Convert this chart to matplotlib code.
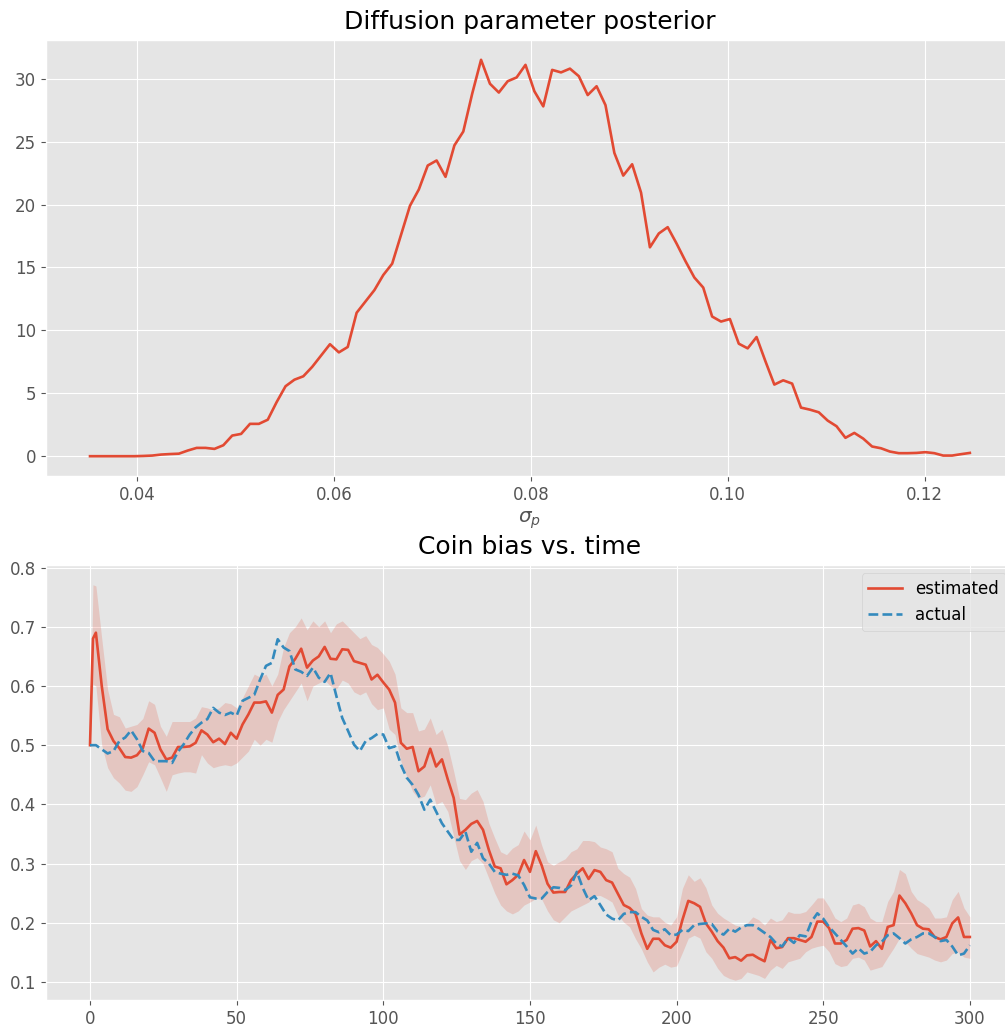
import numpy as np
import matplotlib
matplotlib.use("Agg")
import matplotlib.pyplot as plt

plt.style.use("ggplot")
plt.rcParams["font.size"] = 12

# Posterior over the diffusion parameter (100 grid points)
sigma_grid = np.linspace(0.0352, 0.1246, 100)
posterior = [
    0.0, 0.0, 0.0, 0.0, 0.0, 0.0, 0.02, 0.05, 0.13, 0.17,
    0.20, 0.45, 0.66, 0.66, 0.58, 0.87, 1.64, 1.77, 2.57, 2.57,
    2.90, 4.30, 5.56, 6.08, 6.35, 7.10, 8.00, 8.90, 8.25, 8.68,
    11.4, 12.3, 13.2, 14.4, 15.3, 17.6, 19.9, 21.2, 23.1, 23.5,
    22.2, 24.7, 25.8, 28.8, 31.5, 29.6, 28.9, 29.8, 30.1, 31.1,
    29.0, 27.8, 30.7, 30.5, 30.8, 30.2, 28.7, 29.4, 27.9, 24.1,
    22.3, 23.2, 20.95, 16.6, 17.7, 18.2, 16.9, 15.5, 14.2, 13.4,
    11.1, 10.7, 10.9, 8.94, 8.57, 9.47, 7.54, 5.69, 6.03, 5.77,
    3.86, 3.70, 3.49, 2.83, 2.38, 1.46, 1.85, 1.40, 0.77, 0.63,
    0.37, 0.24, 0.24, 0.26, 0.32, 0.24, 0.05, 0.05, 0.16, 0.26,
]

# Coin bias over time (read every 2 steps)
t = [0, 1] + list(range(2, 301, 2))
estimated = [
    0.500, 0.680, 0.690, 0.600, 0.527, 0.507, 0.495, 0.480, 0.479, 0.483,
    0.495, 0.528, 0.521, 0.493, 0.476, 0.479, 0.497, 0.497, 0.498, 0.504,
    0.525, 0.518, 0.505, 0.511, 0.502, 0.521, 0.511, 0.535, 0.552, 0.572,
    0.572, 0.574, 0.555, 0.585, 0.594, 0.633, 0.646, 0.663, 0.631, 0.643,
    0.650, 0.666, 0.646, 0.645, 0.662, 0.661, 0.642, 0.639, 0.636, 0.611,
    0.619, 0.606, 0.594, 0.572, 0.504, 0.494, 0.497, 0.456, 0.464, 0.494,
    0.464, 0.476, 0.442, 0.411, 0.349, 0.357, 0.367, 0.372, 0.357, 0.323,
    0.295, 0.292, 0.265, 0.272, 0.281, 0.306, 0.286, 0.321, 0.297, 0.266,
    0.251, 0.252, 0.252, 0.272, 0.283, 0.292, 0.274, 0.289, 0.286, 0.272,
    0.268, 0.249, 0.230, 0.225, 0.215, 0.182, 0.156, 0.173, 0.173, 0.162,
    0.158, 0.168, 0.205, 0.237, 0.233, 0.227, 0.199, 0.185, 0.169, 0.158,
    0.140, 0.142, 0.136, 0.145, 0.146, 0.140, 0.135, 0.171, 0.157, 0.159,
    0.174, 0.174, 0.171, 0.168, 0.176, 0.202, 0.202, 0.191, 0.165, 0.165,
    0.171, 0.190, 0.191, 0.187, 0.160, 0.169, 0.156, 0.193, 0.196, 0.246,
    0.233, 0.216, 0.196, 0.190, 0.189, 0.176, 0.172, 0.176, 0.199, 0.209,
    0.176, 0.176,
]
actual = [
    0.500, 0.500, 0.500, 0.493, 0.486, 0.490, 0.507, 0.513, 0.525, 0.510,
    0.490, 0.487, 0.473, 0.473, 0.473, 0.470, 0.489, 0.502, 0.518, 0.530,
    0.538, 0.544, 0.563, 0.555, 0.551, 0.555, 0.550, 0.575, 0.580, 0.585,
    0.611, 0.634, 0.639, 0.679, 0.665, 0.659, 0.628, 0.624, 0.617, 0.631,
    0.614, 0.607, 0.622, 0.583, 0.546, 0.524, 0.501, 0.490, 0.507, 0.512,
    0.519, 0.518, 0.495, 0.498, 0.467, 0.445, 0.433, 0.416, 0.391, 0.408,
    0.388, 0.368, 0.354, 0.340, 0.340, 0.354, 0.320, 0.335, 0.309, 0.300,
    0.286, 0.283, 0.281, 0.283, 0.280, 0.264, 0.243, 0.241, 0.241, 0.252,
    0.260, 0.259, 0.255, 0.263, 0.286, 0.259, 0.238, 0.245, 0.230, 0.214,
    0.207, 0.204, 0.215, 0.218, 0.218, 0.210, 0.204, 0.188, 0.184, 0.189,
    0.179, 0.180, 0.188, 0.186, 0.196, 0.198, 0.199, 0.198, 0.185, 0.180,
    0.190, 0.185, 0.192, 0.196, 0.196, 0.190, 0.183, 0.176, 0.165, 0.160,
    0.174, 0.166, 0.179, 0.177, 0.202, 0.216, 0.207, 0.193, 0.182, 0.171,
    0.160, 0.148, 0.157, 0.148, 0.151, 0.162, 0.168, 0.179, 0.182, 0.174,
    0.165, 0.172, 0.176, 0.182, 0.182, 0.176, 0.169, 0.171, 0.160, 0.145,
    0.148, 0.162,
]
upper = [
    0.500, 0.771, 0.769, 0.680, 0.594, 0.552, 0.548, 0.529, 0.532, 0.535,
    0.545, 0.575, 0.569, 0.532, 0.515, 0.540, 0.540, 0.540, 0.540, 0.546,
    0.565, 0.563, 0.559, 0.563, 0.572, 0.570, 0.563, 0.580, 0.600, 0.620,
    0.615, 0.620, 0.600, 0.620, 0.665, 0.690, 0.700, 0.715, 0.695, 0.710,
    0.700, 0.710, 0.690, 0.705, 0.710, 0.700, 0.690, 0.680, 0.685, 0.670,
    0.665, 0.654, 0.642, 0.620, 0.563, 0.555, 0.555, 0.524, 0.527, 0.546,
    0.518, 0.527, 0.498, 0.456, 0.410, 0.408, 0.419, 0.425, 0.405, 0.368,
    0.343, 0.320, 0.315, 0.326, 0.332, 0.355, 0.340, 0.365, 0.331, 0.303,
    0.297, 0.303, 0.308, 0.320, 0.325, 0.339, 0.339, 0.337, 0.328, 0.325,
    0.320, 0.292, 0.283, 0.277, 0.258, 0.224, 0.213, 0.210, 0.210, 0.201,
    0.196, 0.210, 0.258, 0.281, 0.270, 0.276, 0.259, 0.230, 0.216, 0.208,
    0.202, 0.196, 0.194, 0.199, 0.210, 0.205, 0.196, 0.208, 0.202, 0.205,
    0.219, 0.216, 0.216, 0.219, 0.230, 0.242, 0.242, 0.227, 0.208, 0.202,
    0.208, 0.230, 0.233, 0.227, 0.208, 0.202, 0.202, 0.236, 0.253, 0.290,
    0.283, 0.253, 0.239, 0.233, 0.225, 0.208, 0.208, 0.210, 0.239, 0.253,
    0.225, 0.210,
]
lower = [
    0.500, 0.603, 0.600, 0.500, 0.462, 0.445, 0.436, 0.424, 0.422, 0.430,
    0.450, 0.472, 0.467, 0.445, 0.422, 0.450, 0.453, 0.455, 0.455, 0.453,
    0.484, 0.470, 0.462, 0.465, 0.467, 0.465, 0.470, 0.480, 0.490, 0.510,
    0.500, 0.510, 0.505, 0.540, 0.560, 0.575, 0.590, 0.605, 0.575, 0.600,
    0.605, 0.610, 0.600, 0.595, 0.610, 0.605, 0.590, 0.585, 0.590, 0.570,
    0.560, 0.563, 0.527, 0.518, 0.473, 0.447, 0.422, 0.410, 0.414, 0.433,
    0.400, 0.405, 0.388, 0.346, 0.305, 0.290, 0.305, 0.310, 0.300, 0.275,
    0.250, 0.230, 0.220, 0.215, 0.220, 0.230, 0.235, 0.241, 0.240, 0.220,
    0.205, 0.200, 0.210, 0.220, 0.225, 0.230, 0.235, 0.246, 0.246, 0.241,
    0.235, 0.213, 0.201, 0.193, 0.173, 0.156, 0.134, 0.117, 0.125, 0.130,
    0.125, 0.127, 0.150, 0.174, 0.179, 0.174, 0.151, 0.140, 0.123, 0.111,
    0.106, 0.103, 0.106, 0.117, 0.114, 0.111, 0.106, 0.120, 0.128, 0.123,
    0.134, 0.137, 0.140, 0.151, 0.157, 0.160, 0.162, 0.151, 0.131, 0.126,
    0.128, 0.140, 0.142, 0.137, 0.120, 0.123, 0.126, 0.142, 0.157, 0.174,
    0.168, 0.157, 0.148, 0.145, 0.142, 0.137, 0.134, 0.137, 0.148, 0.151,
    0.142, 0.140,
]

fig = plt.figure(figsize=(10.05, 10.31), dpi=100)

# the saved picture is cropped on the right, so axes run past the edge
ax1 = fig.add_axes([0.0458, 0.5383, 0.963, 0.4229])
ax1.plot(sigma_grid, posterior, lw=1.9)
ax1.set_title("Diffusion parameter posterior", fontsize=18, pad=8)
ax1.set_xlabel(r"$\sigma_p$")

ax2 = fig.add_axes([0.0458, 0.0301, 0.963, 0.4219])
ax2.plot(t, estimated, lw=1.9, label="estimated")
ax2.fill_between(t, lower, upper, color="C0", alpha=0.2, lw=0)
ax2.plot(t, actual, "--", lw=1.9, label="actual")
ax2.set_title("Coin bias vs. time", fontsize=18, pad=8)
ax2.legend(loc="upper right")

fig.savefig("out.png", dpi=100)
